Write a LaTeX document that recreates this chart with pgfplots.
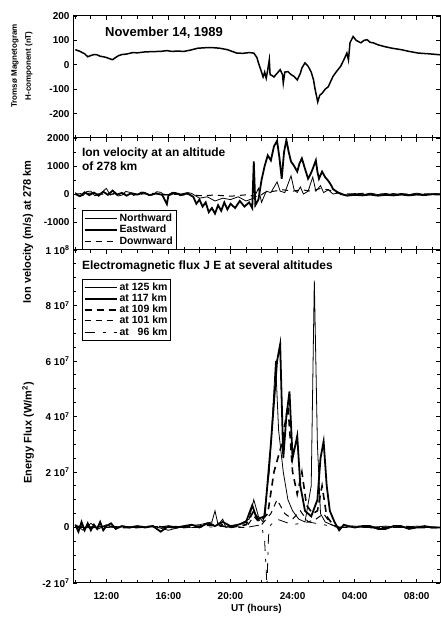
\documentclass[border=0pt]{standalone}
\usepackage{fontspec}
\setmainfont{Liberation Sans}
\usepackage{pgfplots}
\pgfplotsset{compat=1.18}
\pgfplotsset{
  common/.style={
    scale only axis, width=367pt, xmin=9.85, xmax=33.5,
    xtick={12,16,20,24,28,32}, minor xtick={10,11,...,33},
    tick align=inside, axis line style={line width=1pt},
    major tick length=4pt, minor tick length=3pt,
    every tick/.style={black, line width=0.9pt},
    tick label style={font=\bfseries\fontsize{10}{10}\selectfont},
    anchor=south west,
    legend cell align=left,
    legend image code/.code={\draw[##1] (0pt,0pt) -- (32pt,0pt);},
  },
  thinl/.style={black, line width=0.8pt},
  thickl/.style={black, line width=1.8pt},
}
\begin{document}
\begin{tikzpicture}
\path[use as bounding box] (0pt,0pt) rectangle (440pt,623pt);

% ---------- Panel 1 ----------
\begin{axis}[common, at={(73pt,485pt)}, height=122pt,
  ymin=-300, ymax=200, ytick={-200,-100,0,100,200},
  yticklabels={-200,-100,0,100,200}, xticklabels={}]
\addplot[black, line width=1.5pt] coordinates {
(10.0,62)(10.3,55)(10.6,45)(10.8,33)(11.0,38)(11.2,42)(11.4,41)(11.6,35)(11.8,33)(12.0,30)(12.2,25)(12.4,21)(12.6,30)(12.8,38)(13.0,42)(13.3,44)(13.7,50)(14.0,49)(14.5,53)(15.0,54)(15.5,55)(15.9,58)(16.2,55)(16.6,56)(17.0,55)(17.4,60)(17.9,68)(18.4,70)(18.9,70)(19.3,68)(19.8,62)(20.1,55)(20.4,48)(20.8,47)(21.2,50)(21.5,48)(21.7,30)(21.8,8)(21.95,-20)(22.1,-50)(22.2,-30)(22.3,-55)(22.4,-20)(22.5,20)(22.55,-40)(22.7,-45)(22.8,-50)(23.0,-35)(23.2,-20)(23.35,-40)(23.4,-75)(23.5,-30)(23.7,-28)(23.9,-40)(24.1,-48)(24.3,-62)(24.5,-35)(24.6,-13)(24.8,8)(25.0,-6)(25.2,-30)(25.35,-62)(25.45,-100)(25.55,-130)(25.62,-152)(25.75,-125)(25.9,-117)(26.1,-100)(26.3,-90)(26.6,-48)(26.8,-30)(27.1,-6)(27.3,20)(27.5,48)(27.6,20)(27.7,90)(27.9,116)(28.1,100)(28.4,90)(28.6,100)(28.8,103)(29.0,92)(29.2,90)(29.5,82)(29.9,75)(30.4,68)(31.0,62)(31.5,55)(32.1,48)(32.8,45)(33.5,41)
};
\node[anchor=north west, font=\bfseries\fontsize{13}{15}\selectfont, inner sep=0pt]
  at (rel axis cs:0.087,0.91) {November 14, 1989};
\end{axis}

% ---------- Panel 2 ----------
\begin{axis}[common, at={(73pt,373pt)}, height=112pt,
  ymin=-2000, ymax=2000, ytick={-1000,0,1000,2000},
  yticklabels={-1000,0,1000,2000}, minor y tick num=1, xticklabels={},
  legend style={at={(rel axis cs:0.024,0)}, anchor=south west, draw=black,
    line width=1pt, fill=white, inner sep=1.5pt, row sep=-1.5pt,
    font=\bfseries\fontsize{10.5}{10.5}\selectfont}]
\addplot[thinl] coordinates {
(10,50)(10.25,-80)(10.5,-50)(10.75,90)(11,100)(11.25,-60)(11.5,-30)(11.75,80)(12,200)(12.25,-40)(12.5,30)(12.75,-70)(13,-40)(13.25,90)(13.5,60)(13.75,-50)(14,-20)(14.25,70)(14.5,40)(14.75,-60)(15,-30)(15.25,80)(15.5,60)(15.75,-40)(16,-20)(16.25,60)(16.5,30)(16.75,-60)(17,-40)(17.25,50)(17.5,20)(18,-150)(18.5,-100)(19,-250)(19.5,-150)(20,-200)(20.5,-100)(21,-250)(21.5,-150)(21.8,200)(22.0,-300)(22.3,100)(22.6,50)(23.0,430)(23.2,100)(23.5,50)(23.9,650)(24.1,150)(24.3,50)(24.5,250)(24.7,0)(25.0,100)(25.3,600)(25.5,100)(25.8,300)(26.0,50)(26.3,150)(26.6,0)(27,40)(27.5,-40)(28,20)(28.5,-30)(29,30)(29.5,-20)(30,20)(30.5,-30)(31,20)(31.5,-20)(32,30)(32.5,-20)(33,10)(33.5,0)
};
\addlegendentry{Northward}
\addplot[thickl] coordinates {
(10,0)(10.3,-80)(10.6,60)(10.9,-40)(11.2,50)(11.5,-60)(11.8,80)(12.1,-30)(12.4,120)(12.7,-20)(13.0,40)(13.3,-60)(13.6,30)(14.0,-20)(14.4,50)(14.8,-40)(15.2,20)(15.6,-30)(15.9,-360)(16.0,-50)(16.4,40)(16.8,-20)(17.2,30)(17.6,-100)(17.8,-350)(18.0,-200)(18.2,-450)(18.4,-300)(18.6,-650)(18.8,-500)(19.0,-700)(19.2,-400)(19.4,-600)(19.6,-300)(19.8,-550)(20.0,-350)(20.3,-500)(20.6,-250)(20.9,-450)(21.2,-300)(21.4,-500)(21.5,1160)(21.6,-400)(21.8,-200)(22.0,500)(22.2,1000)(22.4,1380)(22.6,1200)(22.8,1700)(23.0,1900)(23.15,1300)(23.3,540)(23.45,1500)(23.6,1930)(23.75,1500)(23.9,1160)(24.1,1000)(24.3,800)(24.45,1100)(24.6,1270)(24.8,900)(25.0,545)(25.15,700)(25.3,900)(25.5,1200)(25.6,800)(25.7,545)(25.9,800)(26.1,600)(26.3,470)(26.5,300)(26.6,180)(26.8,100)(27.1,0)(27.5,-60)(28,-30)(28.5,-50)(29,-20)(29.5,-60)(30,-30)(30.5,-50)(31,-20)(31.5,-50)(32,-20)(32.5,-40)(33,-10)(33.5,-20)
};
\addlegendentry{Eastward}
\addplot[black, line width=1pt, dash pattern=on 6pt off 5pt] coordinates {
(10,0)(11,30)(12,-20)(13,20)(14,-10)(15,20)(16,-30)(17,10)(18,-60)(19,-40)(20,-80)(21,-30)(21.8,-100)(22.2,50)(22.8,100)(23.4,150)(24,100)(24.6,150)(25.2,100)(25.8,200)(26.3,150)(26.8,50)(27.5,0)(28.5,20)(29.5,-10)(30.5,10)(31.5,-10)(32.5,0)(33.5,0)
};
\addlegendentry{Downward}
\node[anchor=north west, align=left, font=\bfseries\fontsize{12}{14}\selectfont, inner sep=0pt]
  at (rel axis cs:0.024,0.91) {Ion velocity at an altitude\\of 278 km};
\end{axis}

% ---------- Panel 3 ----------
\begin{axis}[common, at={(73pt,40pt)}, height=333pt,
  ymin=-2, ymax=10, ytick={-2,0,2,4,6,8,10}, minor y tick num=3,
  yticklabels={-2 10\textsuperscript{7},0,2 10\textsuperscript{7},4 10\textsuperscript{7},6 10\textsuperscript{7},8 10\textsuperscript{7},1 10\textsuperscript{8}},
  xticklabels={12:00,16:00,20:00,24:00,04:00,08:00},
  xticklabel style={yshift=-6pt},
  xlabel={UT (hours)}, xlabel style={font=\bfseries\fontsize{10}{10}\selectfont, yshift=2pt},
  legend style={at={(rel axis cs:0.024,0.913)}, anchor=north west, draw=black,
    line width=1pt, fill=white, inner sep=1.5pt, row sep=-2pt,
    font=\bfseries\fontsize{10.5}{10.5}\selectfont}]
\addplot[thinl] coordinates {
(10,0.1)(10.5,-0.1)(11,0.15)(11.5,-0.05)(12,0.1)(12.5,0)(13,0.05)(14,0)(15,0.05)(16,-0.1)(17,0.05)(18,0.1)(18.8,0.2)(19.0,0.6)(19.2,0.1)(19.5,0.3)(19.7,0)(20.5,0.1)(21.2,0.3)(21.5,1.0)(21.8,0.4)(22.1,0.2)(22.5,2.0)(22.9,6.0)(23.1,3.5)(23.4,2.0)(23.7,1.0)(24.0,0.6)(24.4,0.3)(24.8,0.2)(25.2,1.5)(25.4,8.9)(25.6,3.0)(25.8,0.5)(26.1,0.2)(26.5,0.1)(27,0)(28,0.05)(29,0)(30,0.05)(31,0)(32,0.05)(33.5,0)
};
\addlegendentry{at 125 km}
\addplot[thickl] coordinates {
(10,0.1)(10.2,-0.15)(10.4,0.2)(10.6,-0.1)(10.8,0.15)(11.0,-0.1)(11.2,0.1)(11.4,-0.05)(11.6,0.2)(11.8,-0.1)(12.0,0.05)(12.3,0.15)(12.6,-0.05)(13,0.05)(13.5,0)(14,0.05)(14.5,0)(15,0.05)(15.5,-0.15)(16,0.05)(16.5,0)(17,0.05)(17.5,0.1)(18,0)(18.5,0.15)(19,0.05)(19.5,0.2)(20,0.05)(20.5,0.1)(21.0,0.2)(21.4,0.8)(21.7,0.3)(22.2,0.4)(22.6,3.0)(23.0,6.0)(23.2,6.6)(23.4,2.5)(23.6,4.0)(23.8,4.9)(24.0,2.5)(24.3,3.3)(24.5,1.5)(24.8,0.6)(25.2,0.4)(25.6,1.0)(25.8,2.5)(26.0,3.1)(26.2,1.5)(26.4,0.6)(26.7,0.2)(27.0,-0.1)(27.3,0.1)(27.6,0.05)(28,0)(28.5,0.05)(29,0.05)(29.5,-0.05)(30,-0.05)(30.5,0.05)(31,0.05)(31.5,-0.05)(32,0)(32.5,0.05)(33,0)(33.5,0)
};
\addlegendentry{at 117 km}
\addplot[black, line width=1.6pt, dash pattern=on 7pt off 5pt] coordinates {
(10,0.05)(11,0)(12,0.05)(13,0)(14,0)(15,0.05)(16,0)(17,0)(18,0.05)(19,0.1)(20,0)(21,0.1)(21.5,0.6)(21.9,0.2)(22.4,0.5)(22.8,2.0)(23.3,3.0)(23.7,4.4)(24.0,2.0)(24.3,1.2)(24.6,2.0)(24.9,0.8)(25.3,0.5)(25.6,0.6)(25.9,1.5)(26.2,0.4)(26.6,0.1)(27,0)(28,0.05)(29,0)(30,0)(31,0.05)(32,0)(33.5,0)
};
\addlegendentry{at 109 km}
\addplot[black, line width=1pt, dash pattern=on 6pt off 5pt] coordinates {
(10,0)(12,0.05)(14,0)(16,0.05)(18,0)(19,0.2)(20,0)(21,0)(21.5,0.4)(22,0.1)(22.6,0.5)(23.0,1.0)(23.5,0.5)(24.0,0.3)(24.5,0.6)(25.0,0.2)(25.5,0.3)(26.0,0.5)(26.5,0.1)(27,0)(29,0)(31,0)(33.5,0)
};
\addlegendentry{at 101 km}
\addplot[black, line width=0.8pt, dash pattern=on 10pt off 8pt on 3pt off 8pt] coordinates {
(10,0)(12,0)(14,0.05)(16,0)(18,0)(20,0.05)(21,0)(22.0,0.1)(22.2,-0.5)(22.35,-2.1)(22.45,-0.3)(22.6,0.1)(23,0.3)(23.5,0.2)(24,0.1)(25,0.2)(26,0.1)(27,0)(30,0)(33.5,0)
};
\addlegendentry{at \phantom{1}96 km}
\node[anchor=north west, font=\bfseries\fontsize{12}{14}\selectfont, inner sep=0pt]
  at (rel axis cs:0.024,0.967) {Electromagnetic flux J E at several altitudes};
\end{axis}

% ---------- y labels ----------
\node[rotate=90, align=center, font=\bfseries\fontsize{8}{14}\selectfont]
  at (22pt,557pt) {Tromsø Magnetogram\\H-component (nT)};
\node[rotate=90, font=\bfseries\fontsize{11}{11}\selectfont] at (28pt,391pt) {Ion velocity (m/s) at 278 km};
\node[rotate=90, font=\bfseries\fontsize{11}{11}\selectfont] at (28pt,190pt) {Energy Flux (W/m\textsuperscript{2})};
\end{tikzpicture}
\end{document}
